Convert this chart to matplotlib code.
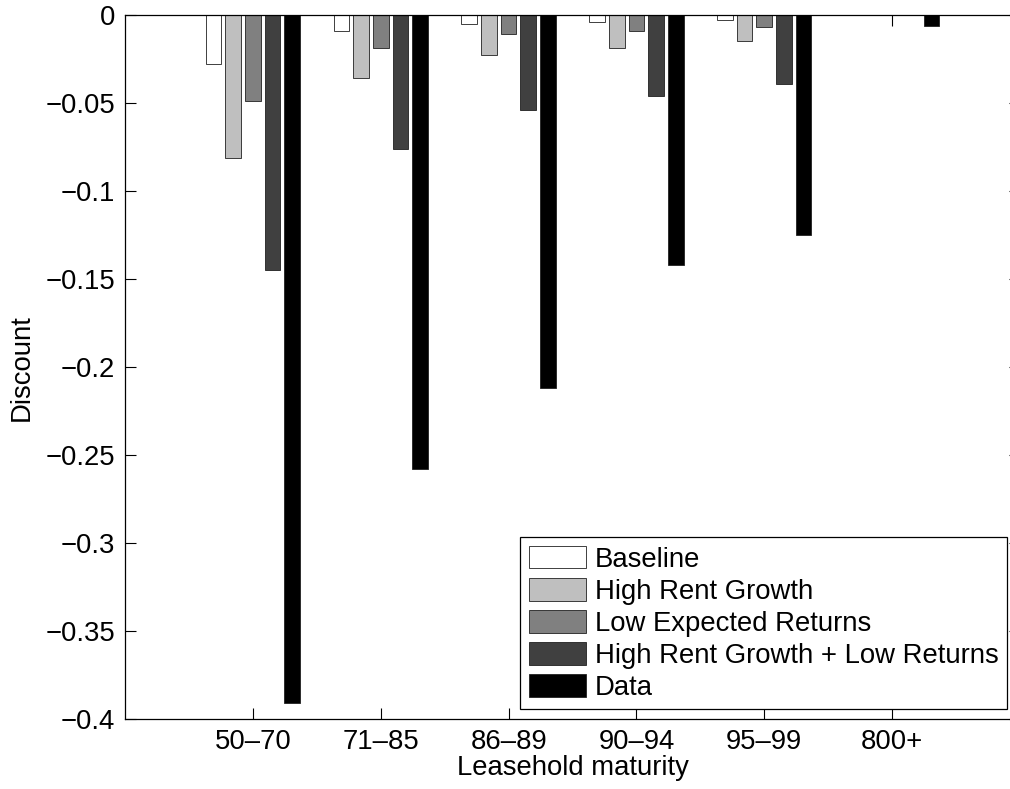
import matplotlib.pyplot as plt
import numpy as np

# Chart data
categories = ['50\u201370', '71\u201385', '86\u201389', '90\u201394', '95\u201399', '800+']
series_names = ['Baseline', 'High Rent Growth', 'Low Expected Returns',
                'High Rent Growth + Low Returns', 'Data']
baseline = [-0.028, -0.009, -0.005, -0.004, -0.003, np.nan]
high_rent = [-0.081, -0.036, -0.023, -0.019, -0.015, np.nan]
low_returns = [-0.049, -0.019, -0.011, -0.009, -0.007, np.nan]
high_rent_low_returns = [-0.145, -0.076, -0.054, -0.046, -0.039, np.nan]
data = [-0.391, -0.258, -0.212, -0.142, -0.125, -0.006]
y_ticks = [0, -0.05, -0.1, -0.15, -0.2, -0.25, -0.3, -0.35, -0.4]
y_tick_labels = ['0', '\u22120.05', '\u22120.1', '\u22120.15', '\u22120.2',
                 '\u22120.25', '\u22120.3', '\u22120.35', '\u22120.4']

series = [baseline, high_rent, low_returns, high_rent_low_returns, data]
colors = ['#ffffff', '#bfbfbf', '#808080', '#404040', '#000000']

plt.rcParams['font.family'] = ['Liberation Sans', 'DejaVu Sans']
fs = 19.8

fig = plt.figure(figsize=(10.10, 7.89), dpi=100)
ax = fig.add_axes([125 / 1010, 1 - 719.3 / 789, 895 / 1010, (719.3 - 15) / 789])
ax.set_axisbelow(True)

# MATLAB-style grouped bars
n = len(series)
group_width = min(0.8, n / (n + 1.5))
step = group_width / n
width = 0.8 * step
x = np.arange(1, len(categories) + 1)
for i, (vals, name, col) in enumerate(zip(series, series_names, colors)):
    offs = -group_width / 2 + step * (i + 0.5)
    ax.bar(x + offs, vals, width, color=col, edgecolor='#202020',
           linewidth=0.6, label=name)

ax.set_xlim(0, 7)
ax.set_ylim(-0.4, 0)
ax.set_xticks(x, labels=categories)
ax.set_yticks(y_ticks, labels=y_tick_labels)
ax.tick_params(direction='in', length=8, width=0.8, top=True, right=True,
               labelsize=fs, pad=7)
for s in ax.spines.values():
    s.set_linewidth(0.9)
    s.set_zorder(3)
ax.set_xlabel('Leasehold maturity', fontsize=fs, labelpad=0)
ax.set_ylabel('Discount', fontsize=fs, labelpad=8)

leg = ax.legend(loc='lower right', bbox_to_anchor=(1006.7 / 1010, 1 - 709.3 / 789),
                bbox_transform=fig.transFigure, borderaxespad=0, fontsize=fs,
                fancybox=False, framealpha=1, edgecolor='black',
                handlelength=2.1, handleheight=0.9, handletextpad=0.3,
                labelspacing=0.19, borderpad=0.3)
leg.get_frame().set_linewidth(0.9)

fig.savefig('out.png', dpi=100)
